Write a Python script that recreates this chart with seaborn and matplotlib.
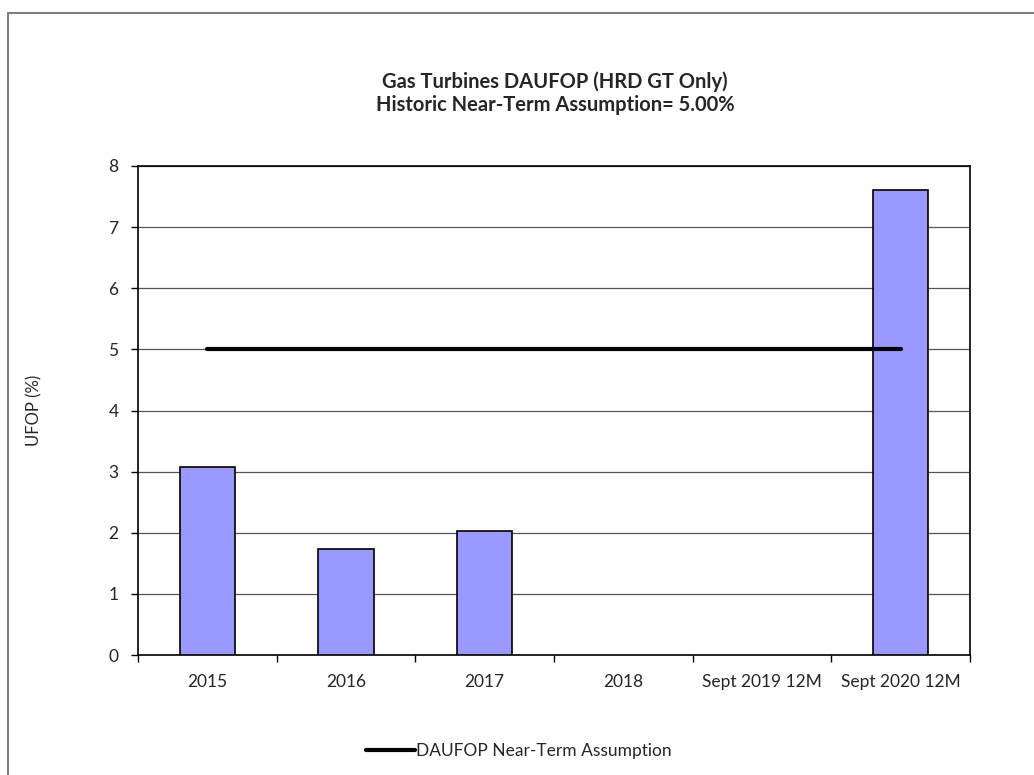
import pandas as pd
import numpy as np
import matplotlib
matplotlib.use("Agg")
import matplotlib.pyplot as plt
import seaborn as sns
from matplotlib.lines import Line2D
from matplotlib.patches import Rectangle

categories = ['2015', '2016', '2017', '2018', 'Sept 2019 12M', 'Sept 2020 12M']
ufop = [3.07, 1.73, 2.03, np.nan, np.nan, 7.6]
assumption = [5.0, 5.0, 5.0, 5.0, 5.0, 5.0]

df = pd.DataFrame({'period': categories, 'ufop': ufop, 'assumption': assumption})

sns.set_style('white')
plt.rcParams['font.family'] = ['Lato', 'DejaVu Sans']

fig = plt.figure(figsize=(10.34, 7.75), dpi=100)
ax = fig.add_axes([138 / 1034, 1 - 655 / 775, 832 / 1034, 489 / 775])

# outer chart border (only top/left visible in the reference)
fig.patches.append(Rectangle((8 / 1034, -0.05), 1.1, 1 - 13 / 775 + 0.05,
                             transform=fig.transFigure, fill=False,
                             edgecolor='#808080', linewidth=1.5))

sns.barplot(data=df, x='period', y='ufop', color='#9999FF', width=0.4,
            edgecolor='black', linewidth=1.2, saturation=1, ax=ax, zorder=3)
sns.lineplot(data=df, x='period', y='assumption', color='black', linewidth=3,
             sort=False, ax=ax, zorder=4)

ax.set_ylim(0, 8)
ax.set_xlim(-0.5, 5.5)
ax.set_yticks(range(0, 9))
ax.yaxis.grid(True, color='#555555', linewidth=0.9, zorder=0)
ax.set_axisbelow(True)
for s in ax.spines.values():
    s.set_color('black')
    s.set_linewidth(1.2)

ax.set_xticks(np.arange(-0.5, 6, 1), minor=True)
ax.tick_params(axis='x', which='major', length=0, labelsize=12.5, pad=14)
ax.tick_params(axis='x', which='minor', length=5, width=1, color='black', direction='out')
ax.tick_params(axis='y', length=5, width=1, color='black', direction='out', labelsize=12.5, pad=9)
ax.xaxis.set_ticks_position('bottom')
ax.yaxis.set_ticks_position('left')

ax.set_xlabel('')
ax.set_ylabel('UFOP (%)', fontsize=12)
ax.yaxis.set_label_coords(-96 / 832, 0.5)

fig.text(555 / 1034, 1 - 93 / 775,
         'Gas Turbines DAUFOP (HRD GT Only)\nHistoric Near-Term Assumption= 5.00%',
         ha='center', va='center', fontsize=14.5, fontweight='bold', linespacing=1.2)

handle = Line2D([], [], color='black', linewidth=3)
fig.legend([handle], ['DAUFOP Near-Term Assumption'], loc='center',
           bbox_to_anchor=(519 / 1034, 1 - 751 / 775), frameon=False,
           fontsize=12.5, handlelength=2.8, handletextpad=0.1)

fig.savefig('out.png', dpi=100)
